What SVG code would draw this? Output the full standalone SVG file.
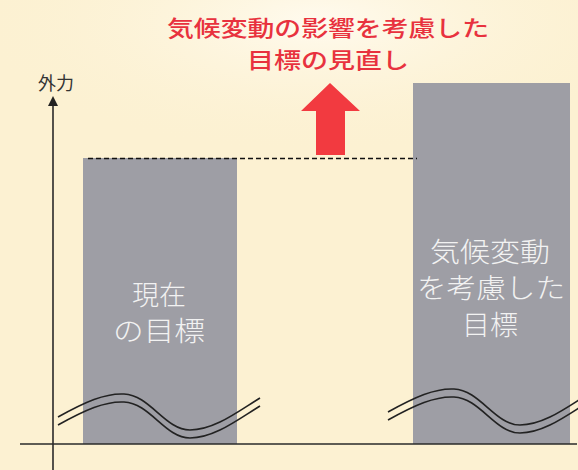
<svg xmlns="http://www.w3.org/2000/svg" width="578" height="470" viewBox="0 0 578 470">
<defs>
<style>
.bar{fill:#9e9ea5}
.axis{stroke:#2a2a2a;stroke-width:1.6;fill:none}
.wave{stroke:#222;stroke-width:1.6;fill:none}
.title{font-family:"Noto Sans CJK JP","Noto Sans",sans-serif;font-size:22px;font-weight:500;fill:#e8323e;text-anchor:middle}
.lbl{font-family:"Noto Sans CJK JP","Noto Sans",sans-serif;font-size:27px;font-weight:300;fill:#f2f2f2;text-anchor:middle}
.ax{font-family:"Noto Sans CJK JP","Noto Sans",sans-serif;font-size:18px;fill:#333}
</style>
<radialGradient id="glow" cx="0.55" cy="0.1" r="0.6">
<stop offset="0" stop-color="#fffbef"/>
<stop offset="1" stop-color="#fcf1d2" stop-opacity="0"/>
</radialGradient>
</defs>
<rect width="578" height="470" fill="#fcf1d2"/>
<rect width="578" height="220" fill="url(#glow)"/>

<g id="title">
<text class="title" x="328" y="36" textLength="322" lengthAdjust="spacingAndGlyphs">気候変動の影響を考慮した</text>
<text class="title" x="328" y="68" textLength="162" lengthAdjust="spacingAndGlyphs">目標の見直し</text>
</g>

<g id="bar-current">
<rect class="bar" x="83" y="158" width="154" height="286"/>
<text class="lbl" x="159" y="305">現在</text>
<text class="lbl" x="159" y="341" textLength="92" lengthAdjust="spacingAndGlyphs">の目標</text>
</g>

<g id="bar-new">
<rect class="bar" x="413" y="83" width="157" height="361"/>
<text class="lbl" x="490" y="262" textLength="120" lengthAdjust="spacingAndGlyphs">気候変動</text>
<text class="lbl" x="491" y="298" textLength="148" lengthAdjust="spacingAndGlyphs">を考慮した</text>
<text class="lbl" x="490" y="335" textLength="56" lengthAdjust="spacingAndGlyphs">目標</text>
</g>

<g id="arrow-up">
<path d="M330,83 L360,111 L345,111 L345,155 L316,155 L316,111 L301,111 Z" fill="#f23a40"/>
</g>

<g id="connectors">
<line x1="88" y1="158.5" x2="417" y2="158.5" stroke="#111" stroke-width="1.4" stroke-dasharray="5,3"/>
<line class="axis" x1="53" y1="470" x2="53" y2="104"/>
<path d="M53,96 L58,106 L48,106 Z" fill="#222"/>
<line class="axis" x1="20" y1="444" x2="577" y2="444"/>
<g id="wave-left">
<path class="wave" d="M58,417 C85,402 105,393 124,394 C150,395 165,430 190,430 C215,430 240,410 260,398"/>
<path class="wave" d="M58,425 C85,410 105,401 124,402 C150,403 165,438 190,438 C215,438 240,418 260,406"/>
</g>
<g id="wave-right" transform="translate(330,-5)">
<path class="wave" d="M58,417 C85,402 105,393 124,394 C150,395 165,430 190,430 C215,430 240,410 260,398"/>
<path class="wave" d="M58,425 C85,410 105,401 124,402 C150,403 165,438 190,438 C215,438 240,418 260,406"/>
</g>
</g>

<g id="axis-label">
<text class="ax" x="38" y="90">外力</text>
</g>
</svg>
